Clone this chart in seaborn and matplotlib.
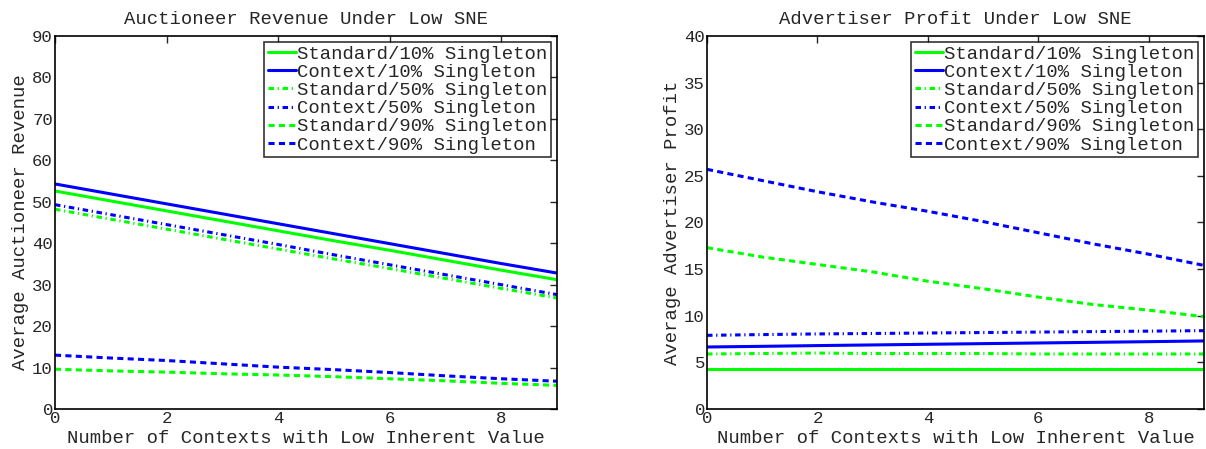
import numpy as np
import pandas as pd
import matplotlib
matplotlib.use("Agg")
import matplotlib.pyplot as plt
import seaborn as sns

sns.set_style("white")
plt.rcParams['font.family'] = ['Liberation Mono', 'DejaVu Sans Mono']

x_vals = [0, 1, 2, 3, 4, 5, 6, 7, 8, 9]
series_names = ["Standard/10% Singleton", "Context/10% Singleton",
                "Standard/50% Singleton", "Context/50% Singleton",
                "Standard/90% Singleton", "Context/90% Singleton"]

# Auctioneer revenue
rev_std10 = [52.6, 50.2, 47.8, 45.4, 43.0, 40.6, 38.3, 35.9, 33.5, 31.2]
rev_ctx10 = [54.3, 51.9, 49.5, 47.1, 44.7, 42.3, 39.9, 37.5, 35.1, 32.8]
rev_std50 = [48.2, 45.8, 43.4, 41.0, 38.6, 36.2, 33.9, 31.5, 29.1, 26.8]
rev_ctx50 = [49.3, 46.9, 44.5, 42.1, 39.7, 37.2, 34.8, 32.4, 30.0, 27.6]
rev_std90 = [9.6, 9.2, 8.9, 8.5, 8.2, 7.8, 7.3, 6.8, 6.2, 5.7]
rev_ctx90 = [13.0, 12.3, 11.7, 10.9, 10.1, 9.5, 8.8, 8.0, 7.3, 6.7]

# Advertiser profit
prof_std10 = [4.3, 4.3, 4.3, 4.3, 4.3, 4.3, 4.3, 4.3, 4.3, 4.3]
prof_ctx10 = [6.65, 6.72, 6.8, 6.87, 6.94, 7.01, 7.08, 7.15, 7.22, 7.3]
prof_std50 = [5.9, 5.95, 6.0, 5.95, 5.95, 5.95, 5.9, 5.9, 5.9, 5.9]
prof_ctx50 = [7.9, 7.98, 8.05, 8.1, 8.15, 8.2, 8.25, 8.3, 8.35, 8.4]
prof_std90 = [17.3, 16.3, 15.5, 14.7, 13.7, 12.9, 12.0, 11.2, 10.6, 9.9]
prof_ctx90 = [25.7, 24.5, 23.3, 22.2, 21.2, 20.1, 18.9, 17.7, 16.6, 15.4]

rev_series = [rev_std10, rev_ctx10, rev_std50, rev_ctx50, rev_std90, rev_ctx90]
prof_series = [prof_std10, prof_ctx10, prof_std50, prof_ctx50, prof_std90, prof_ctx90]

colors = ["#00ff00", "#0000ff", "#00ff00", "#0000ff", "#00ff00", "#0000ff"]
dashdot = (0, (1.8, 1.2, 0.4, 1.2))
dashed = (0, (2.0, 1.4))
styles = ["-", "-", dashdot, dashdot, dashed, dashed]

FS = 13.6
TFS = 12.5

def make_df(series):
    rows = []
    for name, vals in zip(series_names, series):
        for xv, yv in zip(x_vals, vals):
            rows.append({"x": xv, "y": yv, "series": name})
    return pd.DataFrame(rows)

fig = plt.figure(figsize=(12.06, 4.49), dpi=100)
ax1 = fig.add_axes([55/1206, 1-409/449, (557-55)/1206, (409-36)/449])
ax2 = fig.add_axes([707/1206, 1-409/449, (1204-707)/1206, (409-36)/449])

def draw(ax, series, ymax, ystep, title, ylabel):
    df = make_df(series)
    for name, c, ls in zip(series_names, colors, styles):
        sub = df[df["series"] == name]
        sns.lineplot(data=sub, x="x", y="y", ax=ax, color=c, linestyle=ls,
                     linewidth=2.2, label=name)
    ax.set_xlim(0, 9)
    ax.set_ylim(0, ymax)
    ax.set_xticks([0, 2, 4, 6, 8])
    ax.set_yticks(np.arange(0, ymax + 0.1, ystep))
    ax.tick_params(direction="in", top=True, right=True, length=5, width=1,
                   labelsize=TFS, pad=1.5)
    for s in ax.spines.values():
        s.set_color("black")
        s.set_linewidth(1.2)
    ax.set_title(title, fontsize=FS, pad=9)
    ax.set_xlabel("Number of Contexts with Low Inherent Value", fontsize=FS, labelpad=2.5)
    ax.set_ylabel(ylabel, fontsize=FS, labelpad=2)
    leg = ax.legend(loc="upper right", fontsize=FS, frameon=True, fancybox=False,
                    handlelength=1.5, handletextpad=0.05, borderpad=0.2,
                    labelspacing=0.05, borderaxespad=0.3)
    leg.get_frame().set_edgecolor("black")
    leg.get_frame().set_linewidth(1.2)

draw(ax1, rev_series, 90, 10, "Auctioneer Revenue Under Low SNE", "Average Auctioneer Revenue")
draw(ax2, prof_series, 40, 5, "Advertiser Profit Under Low SNE", "Average Advertiser Profit")

fig.savefig("out.png", dpi=100)
